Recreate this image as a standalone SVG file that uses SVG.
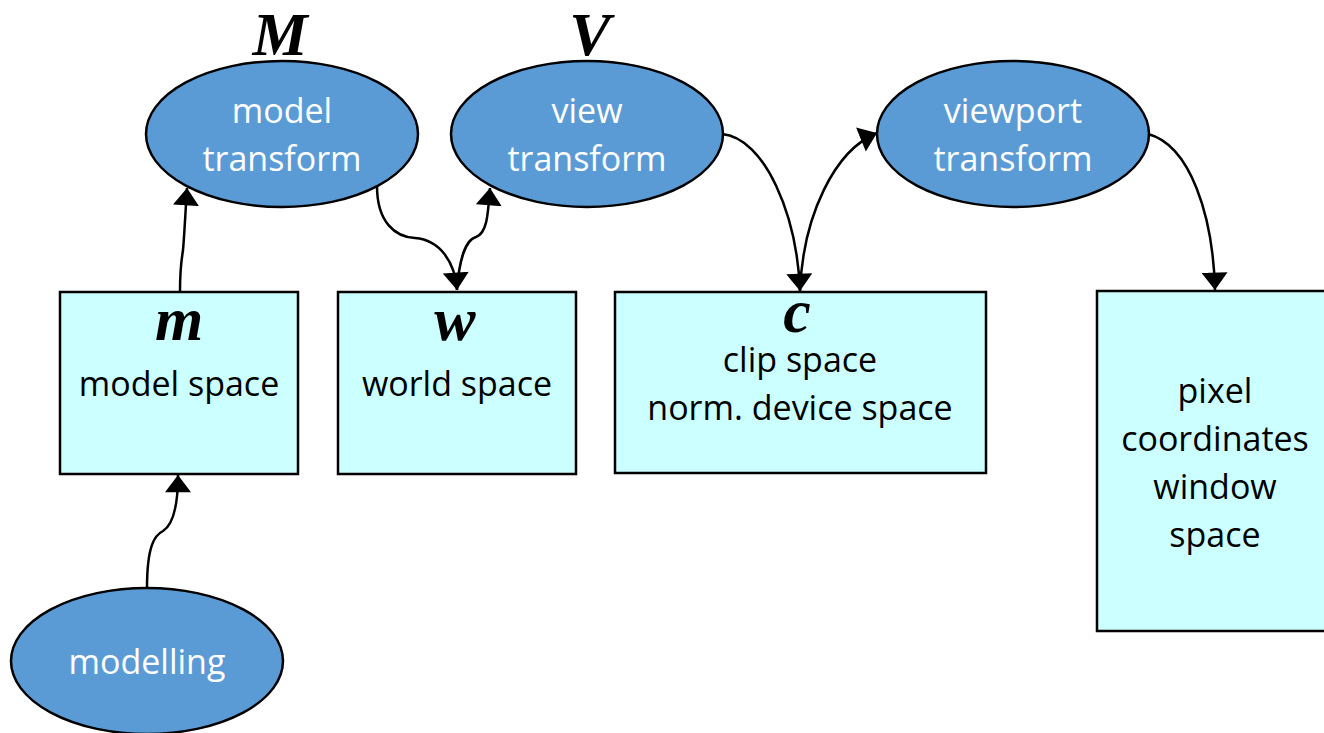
<svg xmlns="http://www.w3.org/2000/svg" width="1324" height="733" viewBox="0 0 1324 733">
  <style>
    .op { fill: #5B9BD5; stroke: #000; stroke-width: 2.5; }
    .space { fill: #CCFFFF; stroke: #000; stroke-width: 2.5; }
    .opText { font-family: "Open Sans", "Noto Sans", sans-serif; font-size: 34px; fill: #fff; text-anchor: middle; }
    .spText { font-family: "Open Sans", "Noto Sans", sans-serif; font-size: 34px; fill: #000; text-anchor: middle; }
    .sym { font-family: "Liberation Serif", serif; font-style: italic; font-weight: bold; font-size: 62px; fill: #000; text-anchor: middle; }
    .edge { fill: none; stroke: #000; stroke-width: 2.5; }
  </style>
  <defs>
    <marker id="arrow" markerUnits="userSpaceOnUse" markerWidth="18" markerHeight="26" viewBox="0 0 16 24" refX="16" refY="12" orient="auto">
      <path d="M0,0 L16,12 L0,24 Z" fill="#000"/>
    </marker>
  </defs>

  <rect width="1324" height="733" fill="#fff"/>

  <!-- matrix labels -->
  <text class="sym" x="280" y="55">M</text>
  <text class="sym" x="590" y="55">V</text>

  <!-- operations -->
  <g id="model-transform">
    <ellipse class="op" cx="282" cy="134" rx="136" ry="73"/>
    <text class="opText" x="282" y="123">model</text>
    <text class="opText" x="282" y="171">transform</text>
  </g>
  <g id="view-transform">
    <ellipse class="op" cx="587" cy="134" rx="136" ry="73"/>
    <text class="opText" x="587" y="123">view</text>
    <text class="opText" x="587" y="171">transform</text>
  </g>
  <g id="viewport-transform">
    <ellipse class="op" cx="1013" cy="134" rx="136" ry="73"/>
    <text class="opText" x="1013" y="123">viewport</text>
    <text class="opText" x="1013" y="171">transform</text>
  </g>
  <g id="modelling">
    <ellipse class="op" cx="147" cy="661" rx="136" ry="73"/>
    <text class="opText" x="147" y="674">modelling</text>
  </g>

  <!-- coordinate spaces -->
  <g id="model-space">
    <rect class="space" x="60" y="292" width="238" height="182"/>
    <text class="sym" x="179" y="340">m</text>
    <text class="spText" x="179" y="396">model space</text>
  </g>
  <g id="world-space">
    <rect class="space" x="338" y="292" width="238" height="182"/>
    <text class="sym" x="455" y="340">w</text>
    <text class="spText" x="457" y="396">world space</text>
  </g>
  <g id="clip-space">
    <rect class="space" x="615" y="292" width="371" height="181"/>
    <text class="sym" x="797" y="332">c</text>
    <text class="spText" x="800" y="372">clip space</text>
    <text class="spText" x="800" y="420">norm. device space</text>
  </g>
  <g id="pixel-space">
    <rect class="space" x="1097" y="291" width="232" height="340"/>
    <text class="spText" x="1215" y="403">pixel</text>
    <text class="spText" x="1215" y="451">coordinates</text>
    <text class="spText" x="1215" y="499">window</text>
    <text class="spText" x="1215" y="547">space</text>
  </g>

  <!-- connectors -->
  <g id="connectors">
    <path class="edge" marker-end="url(#arrow)" d="M147,588 C147,545 155,535 163,531 C174,524 178,505 178,475"/>
    <path class="edge" marker-end="url(#arrow)" d="M180,292 C180,265 182,258 183,250 C184,240 185,220 187,188"/>
    <path class="edge" marker-end="url(#arrow)" d="M377,186 C377,222 395,237 415,238 C440,240 455,262 457,290"/>
    <path class="edge" marker-end="url(#arrow)" d="M457,290 C459,262 465,240 476,237 C487,233 488,215 490,188"/>
    <path class="edge" marker-end="url(#arrow)" d="M722,134 C765,138 797,215 800,291"/>
    <path class="edge" marker-end="url(#arrow)" d="M800,291 C803,215 835,150 877,133"/>
    <path class="edge" marker-end="url(#arrow)" d="M1148,134 C1190,145 1213,215 1215,290"/>
  </g>
</svg>
